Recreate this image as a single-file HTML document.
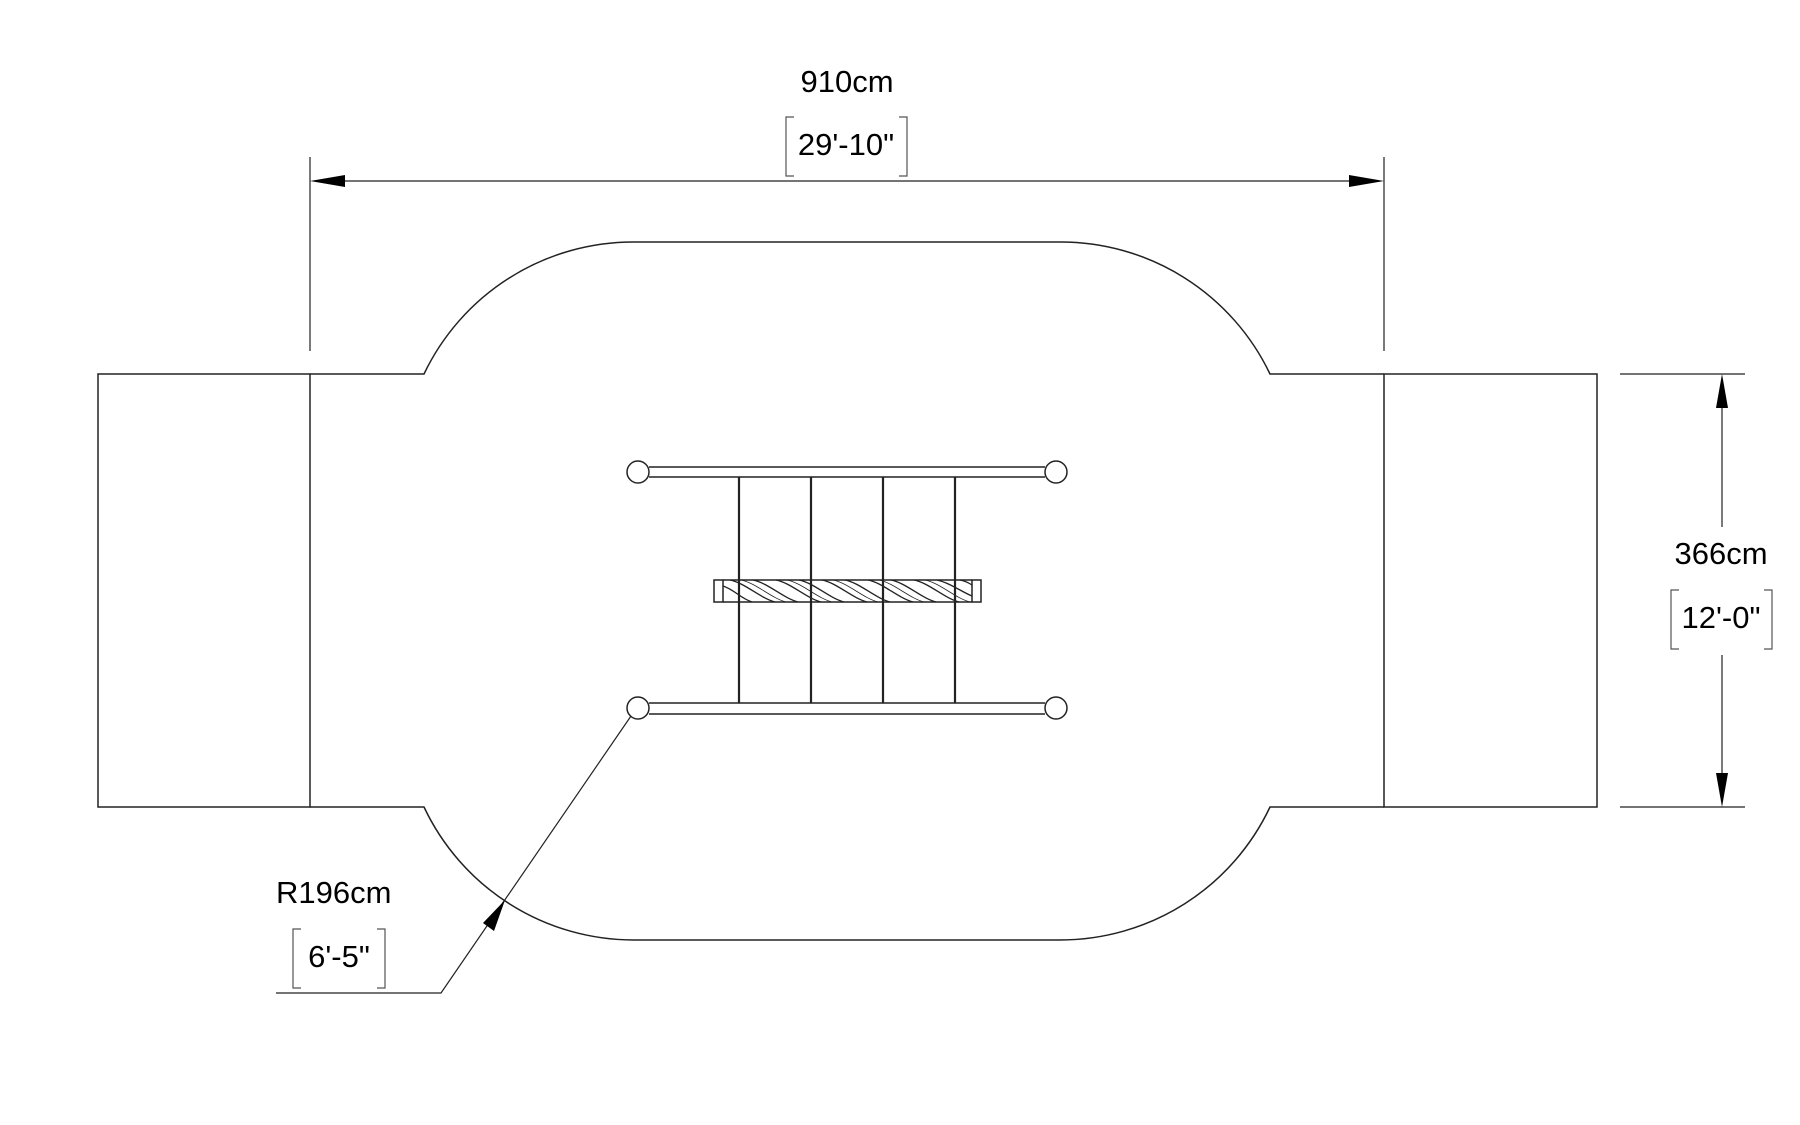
<!DOCTYPE html>
<html><head><meta charset="utf-8"><style>
html,body{margin:0;padding:0;background:#fff}
svg{display:block}
text{font-family:"Liberation Sans",sans-serif;fill:#000}
</style></head><body>
<svg width="1800" height="1125" viewBox="0 0 1800 1125" xmlns="http://www.w3.org/2000/svg">
<g fill="none" stroke="#222" stroke-width="1.5">
<rect x="98" y="374" width="212" height="433"/>
<rect x="1384" y="374" width="213" height="433"/>
<path d="M310 374 L424 374 A232 232 0 0 1 634 242 L1060 242 A232 232 0 0 1 1270 374 L1384 374 M1384 807 L1270 807 A232 232 0 0 1 1060 940 L634 940 A232 232 0 0 1 424 807 L310 807"/>
<line x1="310" y1="157" x2="310" y2="351" stroke-width="1.2"/>
<line x1="1384" y1="157" x2="1384" y2="351" stroke-width="1.2"/>
<line x1="340" y1="181" x2="1354" y2="181" stroke-width="1.2"/>
<line x1="1620" y1="374" x2="1745" y2="374" stroke-width="1.2"/>
<line x1="1620" y1="807" x2="1745" y2="807" stroke-width="1.2"/>
<line x1="1722" y1="400" x2="1722" y2="527" stroke-width="1.2"/>
<line x1="1722" y1="655" x2="1722" y2="780" stroke-width="1.2"/>
<path d="M794 117 H786 V176 H794 M899 117 H907 V176 H899" stroke="#555" stroke-width="1.2"/>
<path d="M1679 590 H1671 V649 H1679 M1764 590 H1772 V649 H1764" stroke="#555" stroke-width="1.2"/>
<path d="M301 929 H293 V988 H301 M377 929 H385 V988 H377" stroke="#555" stroke-width="1.2"/>
<path d="M276 993 H441 L631 716" stroke-width="1.2"/>
<line x1="649" y1="467" x2="1045" y2="467"/>
<line x1="649" y1="477" x2="1045" y2="477"/>
<line x1="649" y1="703" x2="1045" y2="703"/>
<line x1="649" y1="714" x2="1045" y2="714"/>
<circle cx="638" cy="472" r="11" fill="#fff"/>
<circle cx="1056" cy="472" r="11" fill="#fff"/>
<circle cx="638" cy="708" r="11" fill="#fff"/>
<circle cx="1056" cy="708" r="11" fill="#fff"/>
<g stroke-width="2.2">
<line x1="739" y1="477" x2="739" y2="703"/>
<line x1="811" y1="477" x2="811" y2="703"/>
<line x1="883" y1="477" x2="883" y2="703"/>
<line x1="955" y1="477" x2="955" y2="703"/>
</g>
<rect x="714" y="580" width="9" height="22"/>
<rect x="972" y="580" width="9" height="22"/>
<line x1="723" y1="580" x2="972" y2="580"/>
<line x1="723" y1="602" x2="972" y2="602"/>
<g stroke-width="1.3">
<path d="M723 586 C735 590,740 598,752 602"/>
<path d="M730 580 C745 583,760 598,775 602"/>
<path d="M753 580 C768 583,783 598,798 602"/>
<path d="M776 580 C791 583,806 598,821 602"/>
<path d="M799 580 C814 583,829 598,844 602"/>
<path d="M822 580 C837 583,852 598,867 602"/>
<path d="M845 580 C860 583,875 598,890 602"/>
<path d="M868 580 C883 583,898 598,913 602"/>
<path d="M891 580 C906 583,921 598,936 602"/>
<path d="M914 580 C929 583,944 598,959 602"/>
<path d="M937 580 C950 583,962 592,972 596"/>
<path d="M960 580 C965 581,969 583,972 585"/>
<path d="M741 580 C756 583,771 598,786 602" stroke-width="0.8"/>
<path d="M787 580 C802 583,817 598,832 602" stroke-width="0.8"/>
<path d="M833 580 C848 583,863 598,878 602" stroke-width="0.8"/>
<path d="M879 580 C894 583,909 598,924 602" stroke-width="0.8"/>
<path d="M925 580 C940 583,955 598,970 602" stroke-width="0.8"/>
</g>
</g>
<g fill="#000">
<polygon points="310,181 345,175 345,187"/>
<polygon points="1384,181 1349,175 1349,187"/>
<polygon points="1722,374 1716,408 1728,408"/>
<polygon points="1722,807 1716,773 1728,773"/>
<polygon points="505,900 483,923 494,931"/>
</g>
<g font-size="31">
<text x="847" y="92" text-anchor="middle">910cm</text>
<text x="846" y="155" text-anchor="middle">29'-10"</text>
<text x="1721" y="564" text-anchor="middle">366cm</text>
<text x="1721" y="628" text-anchor="middle">12'-0"</text>
<text x="276" y="903">R196cm</text>
<text x="339" y="967" text-anchor="middle">6'-5"</text>
</g>
</svg>
</body></html>
